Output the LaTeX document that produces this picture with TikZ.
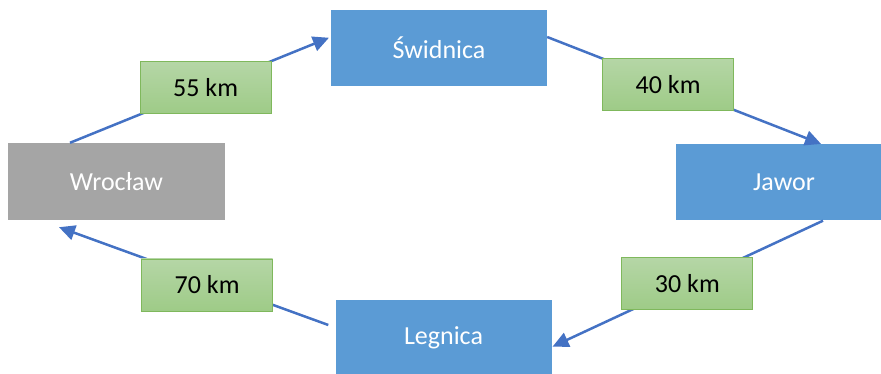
\documentclass[tikz,border=0pt]{standalone}
\usepackage{fontspec}
\setmainfont{Carlito}
\usetikzlibrary{arrows.meta,calc}
\definecolor{cityblue}{HTML}{5B9BD5}
\definecolor{citygray}{HTML}{A5A5A5}
\definecolor{disttop}{HTML}{B5D6A6}
\definecolor{distbottom}{HTML}{9ECB87}
\definecolor{distedge}{HTML}{7FB85C}
\definecolor{roadblue}{HTML}{4472C4}

\begin{document}
\begin{tikzpicture}[x=1pt,y=-1pt,
  city/.style={rectangle,fill=cityblue,text=white,minimum width=216pt,minimum height=76pt,inner sep=0pt,font=\fontsize{26}{30}\selectfont},
  dist/.style={rectangle,draw=distedge,line width=0.8pt,top color=disttop,bottom color=distbottom,minimum width=131pt,minimum height=52pt,inner sep=0pt,font=\fontsize{26}{30}\selectfont},
  road/.style={draw=roadblue,line width=2.5pt,-{Triangle[length=16pt,width=15pt]}}]
\clip (0,0) rectangle (881,374);
\node [city,fill=citygray,minimum width=217pt,minimum height=77pt] (wro) at (116.5,181.5) {Wrocław};
\node [city] (swi) at (439,48) {Świdnica};
\node [city] (jaw) at (784,182.5) {Jawor};
\node [city] (leg) at (443.5,338) {Legnica};

\draw [road,shorten >=2pt] ($(wro.north)+(-46.5,0)$) -- ($(swi.west)+(0,-11)$) node [dist,pos=0.52] {55 km};
\draw [road,shorten >=1pt] ($(swi.east)+(0,-11)$) -- ($(jaw.north)+(38,0)$) node [dist,pos=0.44] {40 km};
\draw [road,shorten >=1pt] ($(jaw.south)+(39,0)$) -- ($(leg.east)+(0,9)$) node [dist,pos=0.5] {30 km};
\draw [road] ($(leg.west)+(-7,-13)$) -- ($(wro.south)+(-57.5,7)$) node [dist,pos=0.45,yshift=-4pt] {70 km};
\end{tikzpicture}
\end{document}
